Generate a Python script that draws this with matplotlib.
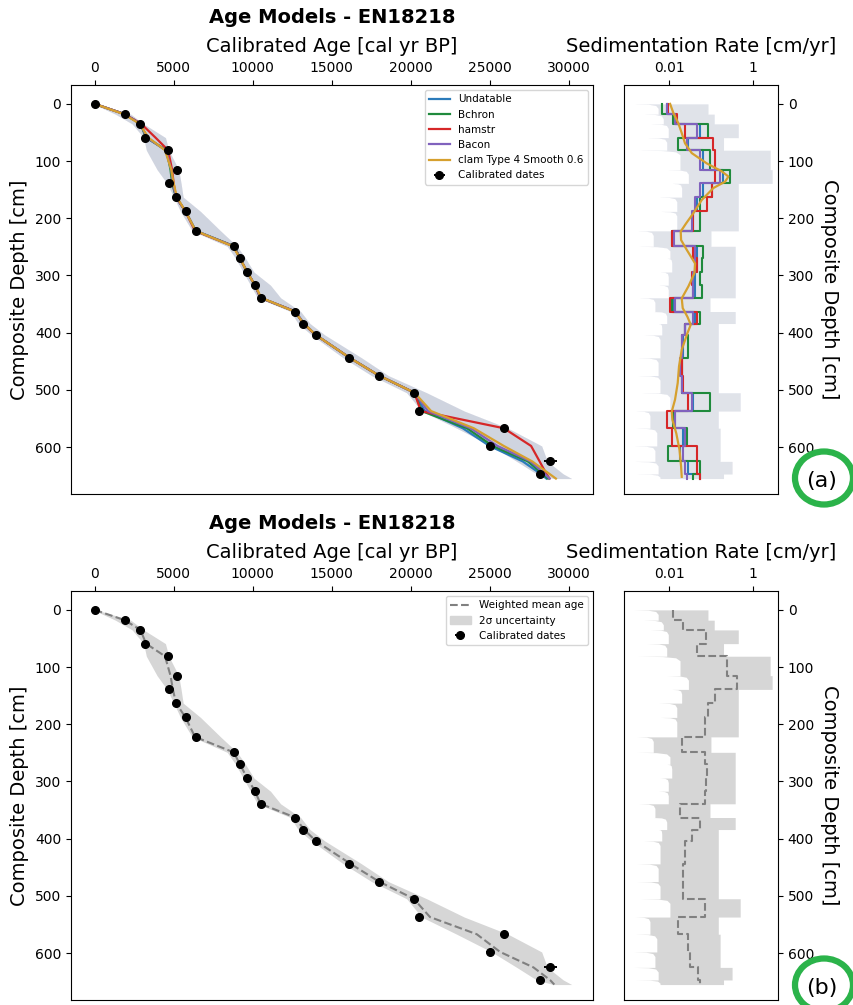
import numpy as np
import matplotlib
matplotlib.use("Agg")
import matplotlib.pyplot as plt
from matplotlib.patches import Ellipse, Patch
from matplotlib.lines import Line2D
from matplotlib.ticker import NullLocator

# calibrated dates (cal yr BP) at composite depth (cm)
date_depth = [0, 18, 35, 59, 81, 115, 139, 163, 188, 222, 249, 270, 294, 317, 339,
              363, 384, 404, 444, 475, 505, 537, 567, 598, 625, 647]
date_age = [0, 1900, 2900, 3200, 4650, 5220, 4730, 5170, 5750, 6400, 8830, 9190, 9630,
            10160, 10500, 12700, 13200, 14000, 16100, 18000, 20200, 20550, 25900,
            25000, 28850, 28200]
date_err = [60, 80, 100, 90, 120, 110, 120, 130, 100, 120, 150, 140, 130, 150, 160,
            180, 170, 190, 200, 200, 200, 200, 200, 200, 420, 200]

# age models at knot depths
model_depth = [0, 18, 35, 59, 81, 115, 139, 163, 188, 222, 249, 270, 294, 317, 339,
               363, 384, 404, 444, 475, 505, 537, 567, 598, 625, 647, 655]
age_undatable = [0, 1900, 2900, 3300, 4500, 4850, 4950, 5150, 5750, 6400, 8800, 9200,
                 9650, 10150, 10500, 12700, 13250, 14000, 16150, 18000, 20250, 20900,
                 23300, 25000, 27100, 28250, 28600]
age_bchron = [0, 1900, 2900, 3250, 4550, 4800, 4900, 5150, 5750, 6400, 8850, 9200,
              9650, 10150, 10500, 12700, 13200, 14000, 16150, 18000, 20250, 20700,
              23570, 25200, 27420, 28380, 28700]
age_hamstr = [0, 1900, 2950, 3850, 4650, 4900, 5000, 5150, 5750, 6350, 8800, 9200,
              9650, 10150, 10500, 12700, 13200, 14000, 16150, 18000, 20250, 20650,
              25900, 27630, 28170, 28600, 28800]
age_bacon = [0, 1900, 2900, 3300, 4500, 4850, 4950, 5150, 5750, 6400, 8800, 9200,
             9650, 10150, 10500, 12700, 13250, 14000, 16150, 18000, 20250, 21100,
             23800, 25500, 27600, 28500, 28800]
age_clam = [0, 1850, 2850, 3400, 4450, 4850, 5000, 5200, 5750, 6400, 8750, 9200,
            9650, 10150, 10550, 12650, 13250, 14000, 16150, 18000, 20250, 21300,
            24000, 25900, 27700, 28800, 29200]
age_mean = [0, 1900, 2900, 3250, 4450, 4800, 4950, 5150, 5750, 6350, 8800, 9200,
            9650, 10150, 10500, 12700, 13250, 14000, 16200, 18000, 20200, 21230,
            24190, 25670, 27780, 28830, 29100]
age_lo = [-100, 1310, 2370, 3100, 3270, 3950, 4580, 5010, 5430, 6170, 8390, 8920,
          9400, 9870, 10300, 12400, 12880, 13730, 15740, 17530, 19750, 20700, 22920,
          25130, 26720, 27980, 29040]
age_hi = [100, 2280, 3100, 4480, 4690, 5320, 5470, 5600, 6700, 7970, 9020, 9550,
          10080, 11130, 11770, 13040, 13630, 14570, 16900, 18590, 21020, 23400, 26170,
          28300, 28660, 29670, 30200]

# sedimentation rate (cm/yr) per interval between knot depths
sr_undatable = [0.0088, 0.0139, 0.0551, 0.0290, 0.0662, 0.199, 0.0662, 0.0459, 0.0382,
                0.0127, 0.0459, 0.0459, 0.0419, 0.0419, 0.0127, 0.0419, 0.0241, 0.0220,
                0.0201, 0.0201, 0.0382, 0.0139, 0.0220, 0.0183, 0.0290, 0.0551]
sr_bchron = [0.00668, 0.0127, 0.0872, 0.0167, 0.0955, 0.287, 0.105, 0.0551, 0.0551,
             0.0116, 0.0662, 0.0604, 0.0551, 0.0604, 0.0116, 0.0551, 0.0241, 0.0290,
             0.0201, 0.0201, 0.0955, 0.0127, 0.0264, 0.00964, 0.0551, 0.0382]
sr_hamstr = [0.00964, 0.0153, 0.0241, 0.115, 0.126, 0.126, 0.105, 0.0795, 0.0382,
             0.0116, 0.0382, 0.0459, 0.0348, 0.0382, 0.0106, 0.0459, 0.0241, 0.0201,
             0.0201, 0.0220, 0.0290, 0.0088, 0.0116, 0.0459, 0.0459, 0.0551]
sr_bacon = [0.0088, 0.0139, 0.0459, 0.0264, 0.0551, 0.166, 0.0551, 0.0419, 0.0348,
            0.0132, 0.0419, 0.0419, 0.0382, 0.0382, 0.0139, 0.0382, 0.0241, 0.0201,
            0.0183, 0.0201, 0.0348, 0.0139, 0.0241, 0.0220, 0.0241, 0.0264]
clam_sr_depth = [0, 16, 34, 51, 69, 86, 104, 118, 127, 136, 147, 168, 191, 209, 223,
                 238, 255, 279, 296, 319, 340, 357, 372, 386, 401, 430, 459, 488, 517,
                 538, 552, 576, 605, 634, 652]
clam_sr = [0.0106, 0.0127, 0.0167, 0.0201, 0.0241, 0.0348, 0.0795, 0.182, 0.262, 0.218,
           0.115, 0.0604, 0.0382, 0.0255, 0.0190, 0.0194, 0.0264, 0.0419, 0.0404, 0.0290,
           0.0201, 0.0212, 0.0274, 0.0330, 0.0274, 0.0201, 0.0173, 0.0161, 0.0139,
           0.0116, 0.0120, 0.0149, 0.0178, 0.0194, 0.0201]
sr_mean = [0.0126, 0.0219, 0.0759, 0.0468, 0.240, 0.420, 0.126, 0.0871, 0.0724, 0.0200,
           0.0724, 0.0794, 0.0759, 0.0724, 0.0182, 0.0550, 0.0347, 0.0240, 0.0219,
           0.0219, 0.0724, 0.0166, 0.0288, 0.0316, 0.0501, 0.0550]
sr_hi = [0.085, 0.12, 0.45, 0.20, 2.6, 2.9, 0.45, 0.45, 0.45, 0.10, 0.38, 0.38, 0.38,
         0.38, 0.095, 0.38, 0.15, 0.15, 0.15, 0.15, 0.50, 0.15, 0.166, 0.166, 0.32, 0.20]
sr_lo = [0.0055, 0.0073, 0.0096, 0.0088, 0.0183, 0.029, 0.020, 0.0153, 0.0153, 0.0042,
         0.0105, 0.0116, 0.0096, 0.0096, 0.0046, 0.0088, 0.0067, 0.0061, 0.0055, 0.0061,
         0.0105, 0.0035, 0.0051, 0.0046, 0.0055, 0.0061]
sr_tip = [0.0014, 0.00243, 0.00351, 0.00292, 0.00169, 0.0088, 0.0116, 0.00556, 0.0061,
          0.00169, 0.00169, 0.0088, 0.0061, 0.00556, 0.00185, 0.00422, 0.00556, 0.00243,
          0.00169, 0.00169, 0.00203, 0.00154, 0.00154, 0.0014, 0.0014, 0.00154]

# name, colour, ages, step rates, band alpha
models = [
    ("Undatable", "#2b7bba", age_undatable, sr_undatable, 0.15),
    ("Bchron", "#1f8a3c", age_bchron, sr_bchron, 0.04),
    ("hamstr", "#d62728", age_hamstr, sr_hamstr, 0.05),
    ("Bacon", "#8062bd", age_bacon, sr_bacon, 0.07),
    ("clam Type 4 Smooth 0.6", "#d6a02e", age_clam, None, 0.0),
]
BAND_GREY = "#d6d6d6"


def stepped(knots, vals):
    xs, ys = [], []
    for i, v in enumerate(vals):
        xs += [v, v]
        ys += [knots[i], knots[i + 1]]
    return xs, ys


def sr_band(knots, hi, base, tips, horn=8.0):
    # lower quantile dips sharply at each tie point, then recovers
    shape = [(0.0, 0.0), (0.08, 0.6), (0.35, 0.9), (1.0, 1.0)]
    ys, lo, up = [], [], []
    for i in range(len(hi)):
        d0, d1 = knots[i], knots[i + 1]
        h = min(horn, 0.7 * (d1 - d0))
        for f, w in shape:
            ys.append(d0 + f * h)
            lo.append(tips[i] ** (1 - w) * base[i] ** w)
            up.append(hi[i])
        ys.append(d1)
        lo.append(base[i])
        up.append(hi[i])
    return np.array(ys), np.array(lo), np.array(up)


def style_age(ax):
    ax.set_xlim(-1500, 31550)
    ax.set_ylim(682, -33)
    ax.xaxis.tick_top()
    ax.xaxis.set_label_position("top")
    ax.set_xticks(range(0, 30001, 5000))
    ax.set_yticks(range(0, 601, 100))
    ax.tick_params(labelsize=10)
    ax.set_xlabel("Calibrated Age [cal yr BP]", fontsize=14, labelpad=7)
    ax.set_ylabel("Composite Depth [cm]", fontsize=14)
    ax.set_title("Age Models - EN18218", fontsize=14, fontweight="bold", pad=10)


def style_sr(ax):
    ax.set_xscale("log")
    ax.set_xlim(8.4e-4, 4.0)
    ax.set_ylim(682, -33)
    ax.set_xticks([0.01, 1], ["0.01", "1"])
    ax.xaxis.set_minor_locator(NullLocator())
    ax.xaxis.tick_top()
    ax.xaxis.set_label_position("top")
    ax.yaxis.tick_right()
    ax.yaxis.set_label_position("right")
    ax.set_yticks(range(0, 601, 100))
    ax.tick_params(labelsize=10)
    ax.set_xlabel("Sedimentation Rate [cm/yr]", fontsize=14, labelpad=7)
    ax.set_ylabel("Composite Depth [cm]", fontsize=14, rotation=270, labelpad=18)


fig = plt.figure(figsize=(8.54, 10.05), dpi=100)
W, H = 854, 1005


def box(x0, y0, x1, y1):
    return [x0 / W, 1 - y1 / H, (x1 - x0) / W, (y1 - y0) / H]


ax_a = fig.add_axes(box(71, 85, 593, 494))
ax_as = fig.add_axes(box(624, 85, 778, 494))
ax_b = fig.add_axes(box(71, 591, 593, 1000))
ax_bs = fig.add_axes(box(624, 591, 778, 1000))

sy, slo, shi = sr_band(model_depth, sr_hi, sr_lo, sr_tip)

# (a) individual models
for name, col, ages, sr, a in models:
    if a > 0:
        ax_a.fill_betweenx(model_depth, age_lo, age_hi, color=col, alpha=a, lw=0)
        ax_as.fill_betweenx(sy, slo, shi, color=col, alpha=a * 0.6, lw=0)
for name, col, ages, sr, a in models:
    ax_a.plot(ages, model_depth, color=col, lw=1.6, label=name)
    if sr is not None:
        xs, ys = stepped(model_depth, sr)
        ax_as.plot(xs, ys, color=col, lw=1.5)
ax_as.plot(clam_sr, clam_sr_depth, color=models[-1][1], lw=1.6)
ax_a.errorbar(date_age, date_depth, xerr=date_err, fmt="o", color="black", ms=5.5,
              elinewidth=1.4, capsize=0, zorder=10, label="Calibrated dates")
ax_a.legend(loc="upper right", fontsize=7.5, edgecolor="0.8")

# (b) weighted mean
ax_b.fill_betweenx(model_depth, age_lo, age_hi, color=BAND_GREY, lw=0)
ax_b.plot(age_mean, model_depth, color="0.5", ls="--", lw=1.5)
ax_b.errorbar(date_age, date_depth, xerr=date_err, fmt="o", color="black", ms=5.5,
              elinewidth=1.4, capsize=0, zorder=10)
eb = ax_b.containers[-1]
ax_b.legend([Line2D([], [], color="0.5", ls="--", lw=1.5),
             Patch(color=BAND_GREY), eb],
            ["Weighted mean age", "2\u03c3 uncertainty", "Calibrated dates"],
            loc="upper right", fontsize=7.5, edgecolor="0.8")
ax_bs.fill_betweenx(sy, slo, shi, color=BAND_GREY, lw=0)
xs, ys = stepped(model_depth, sr_mean)
ax_bs.plot(xs, ys, color="0.5", ls="--", lw=1.5)

for ax in (ax_a, ax_b):
    style_age(ax)
for ax in (ax_as, ax_bs):
    style_sr(ax)

# panel markers
green = "#2bb34a"
for label, cy in (("(a)", 478), ("(b)", 985)):
    fig.add_artist(Ellipse((824 / W, 1 - cy / H), 58 / W, 53 / H,
                           transform=fig.transFigure, fill=False,
                           edgecolor=green, lw=4.5))
    fig.text(822 / W, 1 - (cy + 3) / H, label, fontsize=16, ha="center",
             va="center")

fig.savefig("out.png", dpi=100)
